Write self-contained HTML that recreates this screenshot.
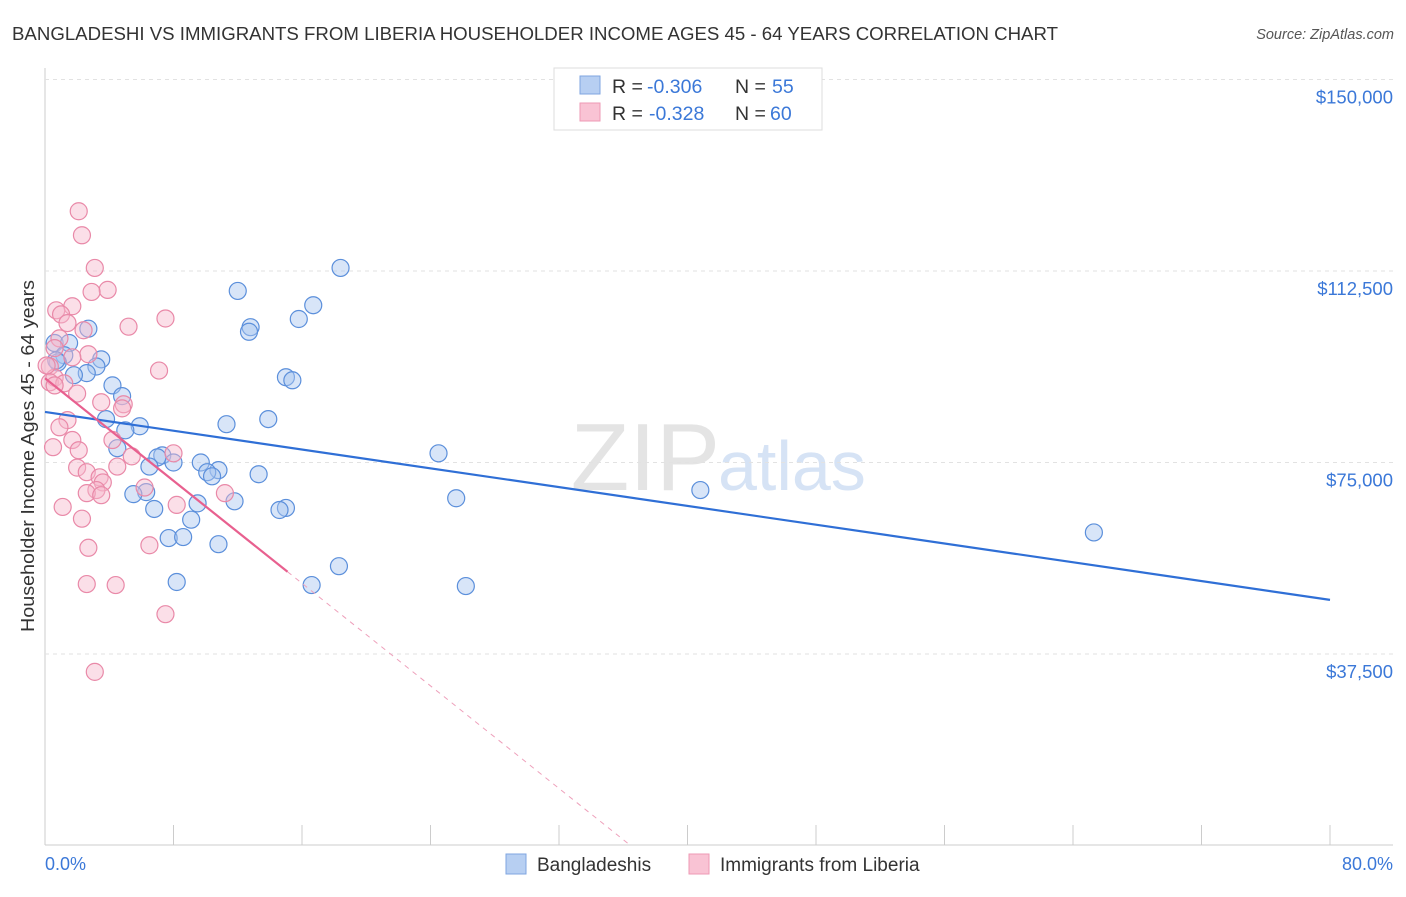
<!DOCTYPE html>
<html><head><meta charset="utf-8"><style>
body{margin:0;background:#fff;font-family:"Liberation Sans",sans-serif}
svg text{font-family:"Liberation Sans",sans-serif}
</style></head><body>
<svg id="c" width="1406" height="892" xmlns="http://www.w3.org/2000/svg">
<text x="12" y="40" font-size="18" fill="#333" textLength="1046" lengthAdjust="spacingAndGlyphs">BANGLADESHI VS IMMIGRANTS FROM LIBERIA HOUSEHOLDER INCOME AGES 45 - 64 YEARS CORRELATION CHART</text>
<text x="1394" y="39" font-size="14.5" fill="#555" text-anchor="end" font-style="italic">Source: ZipAtlas.com</text>
<text x="720" y="490" font-size="96" fill="#e4e4e4" text-anchor="end" font-family="Liberation Serif">ZIP</text>
<text x="718" y="490" font-size="70" fill="#d6e3f5">atlas</text>
<g id="grid"></g>
<g id="marks"></g>
<text transform="translate(34,456) rotate(-90)" font-size="18.5" fill="#333" text-anchor="middle" textLength="352" lengthAdjust="spacingAndGlyphs">Householder Income Ages 45 - 64 years</text>
<text x="45" y="870" font-size="18" fill="#3b78d8">0.0%</text>
<text x="1393" y="870" font-size="18" fill="#3b78d8" text-anchor="end">80.0%</text>
<g>
<rect x="554" y="68" width="268" height="62" fill="#fff" stroke="#ddd"/>
<rect x="580" y="76" width="20" height="18" fill="#b7cff2" stroke="#7fa6e0"/>
<rect x="580" y="103" width="20" height="18" fill="#f9c3d4" stroke="#ee9ab5"/>
<text x="612" y="93" font-size="19.5" fill="#333">R =</text>
<text x="647" y="93" font-size="19.5" fill="#3b78d8">-0.306</text>
<text x="735" y="93" font-size="19.5" fill="#333">N =</text>
<text x="772" y="93" font-size="19.5" fill="#3b78d8">55</text>
<text x="612" y="120" font-size="19.5" fill="#333">R =</text>
<text x="649" y="120" font-size="19.5" fill="#3b78d8">-0.328</text>
<text x="735" y="120" font-size="19.5" fill="#333">N =</text>
<text x="770" y="120" font-size="19.5" fill="#3b78d8">60</text>
</g>
<g>
<rect x="506" y="854" width="20" height="20" fill="#b7cff2" stroke="#7fa6e0"/>
<text x="537" y="871" font-size="19" fill="#333">Bangladeshis</text>
<rect x="689" y="854" width="20" height="20" fill="#f9c3d4" stroke="#ee9ab5"/>
<text x="720" y="871" font-size="19" fill="#333">Immigrants from Liberia</text>
</g>
</svg>
<script>
const yTicks=[37500,75000,112500,150000];
const yTickLabels=["$37,500","$75,000","$112,500","$150,000"];
const xTicks=[0,8,16,24,32,40,48,56,64,72,80];
const blueX=[18.4,12.0,16.7,15.8,12.8,12.7,2.7,0.6,1.5,1.2,3.5,0.8,3.2,2.6,1.8,15.0,15.4,4.2,4.8,13.9,3.8,11.3,5.9,5.0,4.5,24.5,7.3,7.0,9.7,8.0,6.5,10.8,10.1,10.4,13.3,40.8,6.3,5.5,25.6,11.8,9.5,6.8,15.0,14.6,9.1,65.3,7.7,8.6,10.8,18.3,8.2,16.6,26.2,0.7];
const blueY=[113.1,108.6,105.8,103.1,101.5,100.6,101.2,98.4,98.4,96.0,95.2,94.6,93.8,92.5,92.1,91.7,91.1,90.1,88.0,83.5,83.5,82.5,82.1,81.3,77.8,76.8,76.4,76.0,75.0,75.0,74.2,73.5,73.1,72.3,72.7,69.6,69.2,68.8,68.0,67.4,67.0,65.9,66.1,65.7,63.8,61.3,60.2,60.4,59.0,54.7,51.6,51.0,50.8,95.0];
const pinkX=[2.1,2.3,3.1,3.9,2.9,1.7,0.7,1.0,7.5,1.4,5.2,2.4,0.9,0.6,2.7,1.7,0.3,7.1,0.6,0.3,1.2,0.6,2.0,4.9,3.5,4.8,1.4,0.9,4.2,1.7,0.5,2.1,8.0,5.4,4.5,2.0,2.6,3.4,3.6,6.2,3.2,2.6,3.5,11.2,8.2,1.1,2.3,6.5,2.7,2.6,4.4,7.5,3.1,0.1];
const pinkY=[124.2,119.5,113.1,108.8,108.4,105.6,104.8,104.0,103.2,102.3,101.6,100.9,99.3,97.4,96.2,95.6,93.8,93.0,91.6,90.7,90.5,90.1,88.5,86.4,86.8,85.6,83.3,81.9,79.4,79.4,78.0,77.4,76.8,76.2,74.2,74.0,73.1,72.1,71.1,70.1,69.6,69.0,68.6,69.0,66.7,66.3,64.0,58.8,58.3,51.2,51.0,45.3,34.0,94.0];
const blueTrend=[84.9,48.1];
const pinkTrend=[91.5,-2.51,15.1];
const X=v=>45+v/80*1285;
const Y=k=>845.5-k*1000/37500*191.5;
const NS="http://www.w3.org/2000/svg";
function mk(t,a,p){const e=document.createElementNS(NS,t);for(const k in a)e.setAttribute(k,a[k]);p.appendChild(e);return e;}
const g=document.getElementById('grid'),m=document.getElementById('marks');
let ax=mk('line',{x1:45,y1:68,x2:45,y2:845,stroke:'#ccc'},g);


let bx=mk('line',{x1:45,y1:845,x2:1393,y2:845,stroke:'#ccc'},g);


yTicks.forEach((v,i)=>{
 const y=Y(v/1000);
 const l=mk('line',{x1:45,y1:y,x2:1393,y2:y,stroke:'#e2e2e2','stroke-dasharray':'4,4'},g);
 
 
 const t=mk('text',{x:1393,y:y+24,'font-size':18.5,fill:'#3b78d8','text-anchor':'end'},g);
 t.textContent=yTickLabels[i];
 
 
});
xTicks.forEach(v=>{
 const l=mk('line',{x1:X(v),y1:825,x2:X(v),y2:845,stroke:'#ccc'},g);
 
 
});
function pts(xs,ys,fill,stroke,name){xs.forEach((x,i)=>{
 const c=mk('circle',{cx:X(x),cy:Y(ys[i]),r:8.5,fill:fill,'fill-opacity':0.45,stroke:stroke,'stroke-width':1.2},m);
 
 
});}
pts(blueX,blueY,'#a9c6f0','#5b8fdb','bangladeshi-point');
pts(pinkX,pinkY,'#f7b8cc','#e989a8','liberia-point');
let bl=mk('line',{x1:X(0),y1:Y(blueTrend[0]),x2:X(80),y2:Y(blueTrend[1]),stroke:'#2f6fd6','stroke-width':2.2},m);


const pe=pinkTrend[2],pz=-pinkTrend[0]/pinkTrend[1];
let pl=mk('line',{x1:X(0),y1:Y(pinkTrend[0]),x2:X(pe),y2:Y(pinkTrend[0]+pinkTrend[1]*pe),stroke:'#e8608f','stroke-width':2.2},m);


let pd=mk('line',{x1:X(pe),y1:Y(pinkTrend[0]+pinkTrend[1]*pe),x2:X(pz),y2:Y(0),stroke:'#eea0bb','stroke-width':1,'stroke-dasharray':'5,5'},m);


</script>
</body></html>
